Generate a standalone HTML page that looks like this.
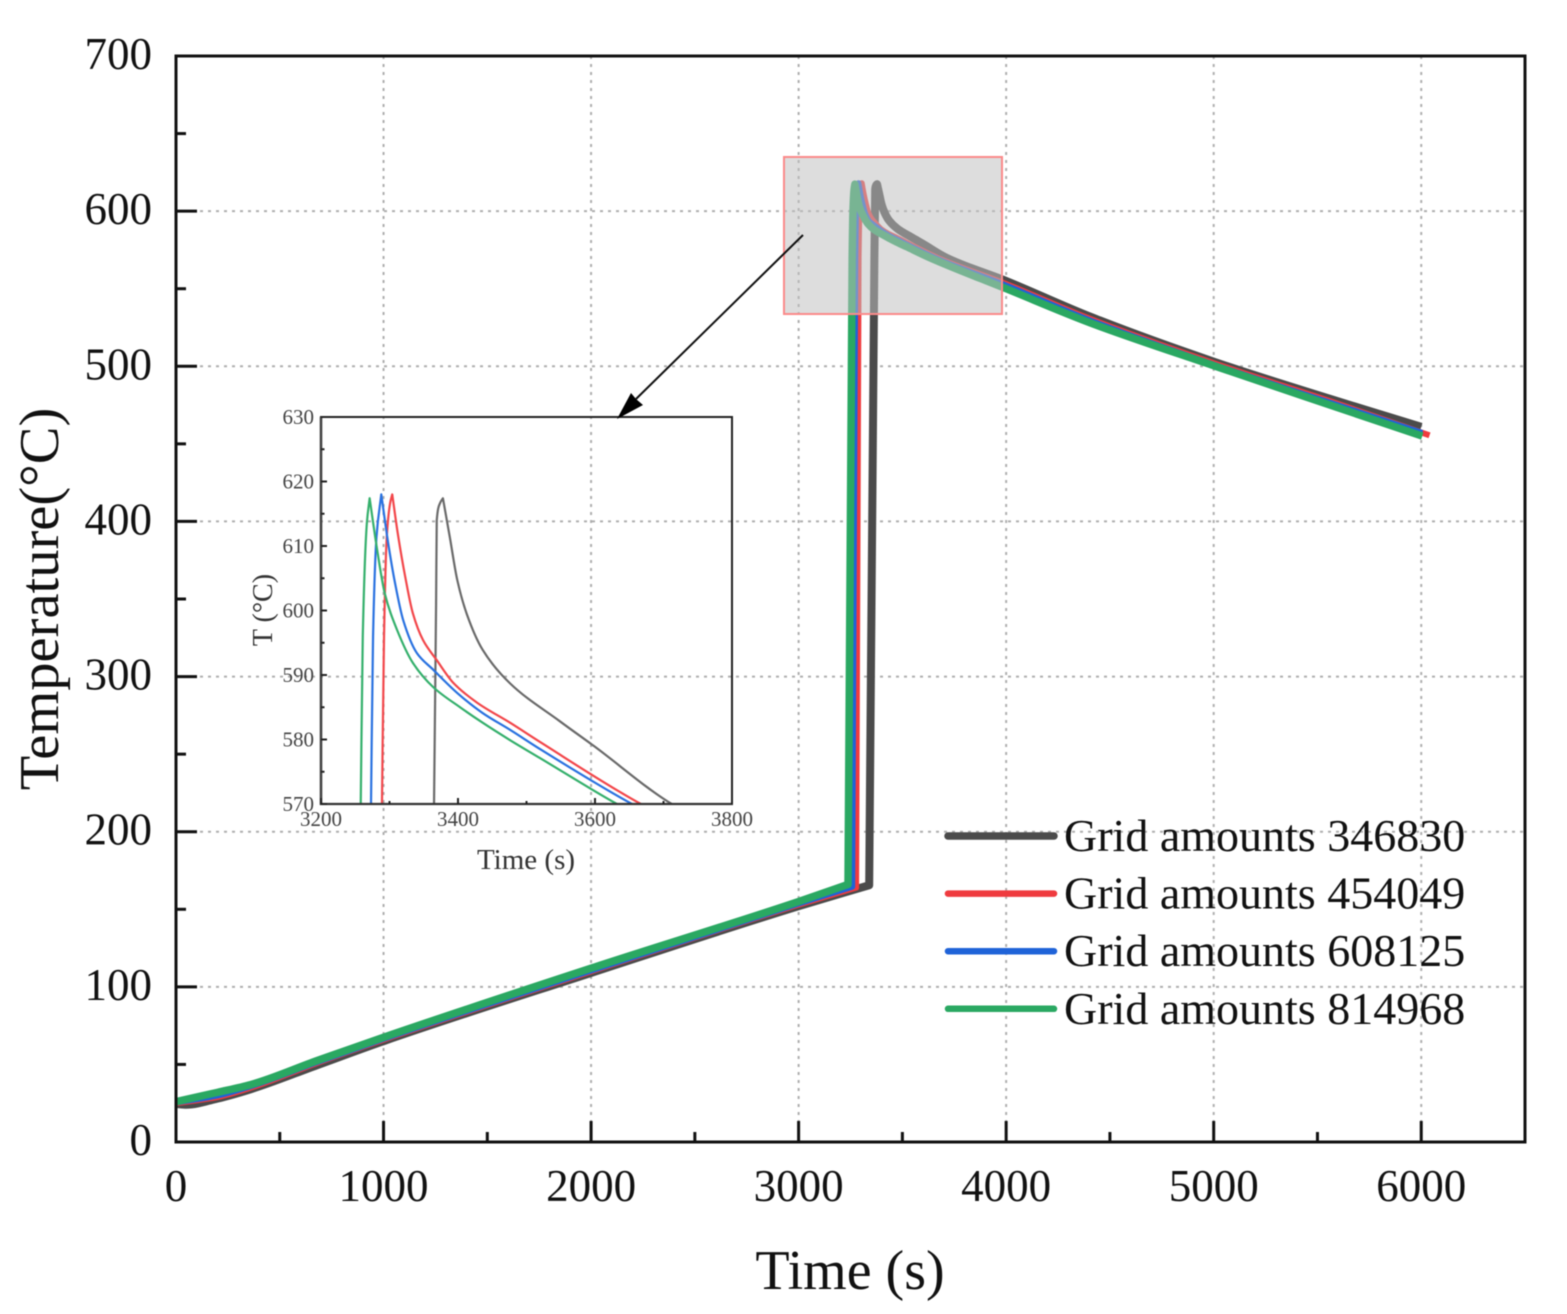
<!DOCTYPE html>
<html lang="en">
<head>
<meta charset="utf-8">
<title>Temperature vs Time</title>
<style>
html,body{margin:0;padding:0;background:#fff;width:1567px;height:1314px;overflow:hidden;}
svg{display:block;overflow:hidden;}
#plot{filter:blur(.55px);}
text{font-family:"Liberation Serif",serif;fill:#111;}
</style>
</head>
<body>
<svg id="chart" width="1567" height="1314" viewBox="0 0 1567 1314" xmlns="http://www.w3.org/2000/svg">
  <defs>
    <clipPath id="inset-clip"><rect x="321" y="417" width="411" height="387"/></clipPath>
  </defs>
  <rect x="0" y="0" width="1567" height="1314" fill="#fff"/>
  <g id="plot">
  <g id="grid"></g>
  <g id="main-series"></g>
  <rect x="784" y="157" width="218" height="157" fill="rgba(190,190,190,.53)" stroke="#fb8a8a" stroke-width="2"/>
  <g id="main-axes"></g>
  <g id="inset"></g>
  <line x1="803" y1="235" x2="636" y2="399" stroke="#111" stroke-width="2"/>
  <polygon points="617,419 631,393 636,399 643,405" fill="#000"/>
  <g id="legend"></g>
  </g>
</svg>
<script>
// Data: series 346830
const time346830 = [0,50,200,360,680,1000,2000,3000,3340,3365,3368,3369,3374,3378,3388,3399,3413,3436,3476,3549,3597,3712,4000,4405,5000,5561,6000];
const temp346830 = [24.5,24,28,34,49.5,65,109,152,165.5,570,601,614,616.7,617.4,611.4,604.7,599.4,593.9,588.7,582.8,579.1,570,555,532,503,479,461];
// Data: series 454049
const time454049 = [0,200,360,680,1000,2000,3000,3277,3289,3292,3296,3301,3304,3312,3323,3334,3349,3369,3393,3428,3476,3520,3667,4000,4405,5000,5561,6040];
const temp454049 = [25,29,35,51,66,110,153,164,570,596,611.4,616.7,618,612,605.2,599.6,595.4,592.3,588.8,585.7,582.6,579.6,570,553,530.5,502,477.5,455.5];
// Data: series 608125
const time608125 = [0,200,360,680,1000,2000,3000,3258,3273,3276,3281,3288,3298,3308,3320,3340,3364,3399,3436,3476,3520,3654,4000,4405,5000,5561,6005];
const temp608125 = [25.5,30,36,51.5,66.5,110.5,153.7,164.5,570,596,611.4,618,610.5,604.3,598.5,593.4,590.8,587.2,584.1,581.5,578.5,570,552,529.5,501,476.5,457];
// Data: series 814968
const time814968 = [0,200,360,680,1000,2000,3000,3238,3258,3261,3267,3271,3282,3293,3311,3334,3364,3403,3436,3476,3520,3632,4000,4405,5000,5561,6005];
const temp814968 = [26,32,37,52.5,67.5,112,155,166,570,596,613.6,617.4,609.4,602.7,597,591.9,588.1,585,582.6,579.9,577.1,570,550,528,500.4,475,455];

const seriesNames = ['346830','454049','608125','814968'];
const seriesColors = ['#4b4b4b','#ef3b3f','#1f63d8','#2aa862'];
const insetColors = ['#6a6a6a','#f2474b','#2a72e0','#35b06c'];

// Axis ticks: main chart
const xMajorTicks = [0,1000,2000,3000,4000,5000,6000];
const xMinorTicks = [500,1500,2500,3500,4500,5500,6500];
const yMajorTicks = [0,100,200,300,400,500,600,700];
const yMinorTicks = [50,150,250,350,450,550,650];
// Axis ticks: inset chart
const insetXMajor = [3200,3400,3600,3800];
const insetXMinor = [3300,3500,3700];
const insetYMajor = [570,580,590,600,610,620,630];
const insetYMinor = [575,585,595,605,615,625];

const NS = 'http://www.w3.org/2000/svg';
const xMain = t => 176 + (t - 0) * (1525 - 176) / 6500;
const yMain = v => 1142 - v * (1142 - 56) / 700;
const xInset = t => 321 + (t - 3200) * (732 - 321) / 600;
const yInset = v => 804 - (v - 570) * (804 - 417) / 60;

function make(parent, tag, name, attrs, txt) {
  const el = document.createElementNS(NS, tag);
  
  
  for (const k in attrs) el.setAttribute(k, attrs[k]);
  if (txt !== undefined) el.textContent = txt;
  parent.appendChild(el);
  return el;
}

// Monotone cubic through one smooth stretch of a series, in pixel space
function monotoneSegment(px, py) {
  const n = px.length;
  const slopes = [];
  for (let i = 0; i < n - 1; i++) slopes.push((py[i + 1] - py[i]) / (px[i + 1] - px[i]));
  const m = new Array(n);
  m[0] = slopes[0];
  m[n - 1] = slopes[n - 2];
  for (let i = 1; i < n - 1; i++) {
    if (slopes[i - 1] * slopes[i] <= 0) m[i] = 0;
    else {
      const h0 = px[i] - px[i - 1], h1 = px[i + 1] - px[i];
      m[i] = 3 * (h0 + h1) / ((2 * h1 + h0) / slopes[i - 1] + (h1 + 2 * h0) / slopes[i]);
    }
  }
  let d = '';
  for (let i = 0; i < n - 1; i++) {
    const h = (px[i + 1] - px[i]) / 3;
    d += ' C' + (px[i] + h).toFixed(2) + ' ' + (py[i] + m[i] * h).toFixed(2) + ' ' +
      (px[i + 1] - h).toFixed(2) + ' ' + (py[i + 1] - m[i + 1] * h).toFixed(2) + ' ' +
      px[i + 1].toFixed(2) + ' ' + py[i + 1].toFixed(2);
  }
  return d;
}

// Corners (start of the rapid climb, top of the peak) stay sharp; the rest is smooth
function curvePath(ts, vs, fx, fy) {
  let jump = 0;
  for (let i = 0; i < vs.length - 1; i++) if (vs[i + 1] - vs[i] > vs[jump + 1] - vs[jump]) jump = i;
  let peak = 0;
  for (let i = 0; i < vs.length; i++) if (vs[i] > vs[peak]) peak = i;
  const px = ts.map(fx), py = vs.map(fy);
  const part = (a, b) => monotoneSegment(px.slice(a, b + 1), py.slice(a, b + 1));
  return 'M' + px[0].toFixed(2) + ' ' + py[0].toFixed(2) + part(0, jump) +
    ' L' + px[jump + 1].toFixed(2) + ' ' + py[jump + 1].toFixed(2) +
    part(jump + 1, peak) + part(peak, ts.length - 1);
}

const gridG = document.getElementById('grid');
const mainG = document.getElementById('main-series');
const axesG = document.getElementById('main-axes');
const insetG = document.getElementById('inset');
const legendG = document.getElementById('legend');

// Grid
xMajorTicks.filter(t => t > 0).forEach(t => {
  make(gridG, 'line', 'grid-x-' + t, {x1:xMain(t), x2:xMain(t), y1:56, y2:1142, stroke:'#aeaeae', 'stroke-width':2, 'stroke-dasharray':'3 5'});
});
yMajorTicks.filter(v => v > 0 && v < 700).forEach(v => {
  make(gridG, 'line', 'grid-y-' + v, {x1:176, x2:1525, y1:yMain(v), y2:yMain(v), stroke:'#aeaeae', 'stroke-width':2, 'stroke-dasharray':'3 5'});
});

// Series
const allTimes = [time346830, time454049, time608125, time814968];
const allTemps = [temp346830, temp454049, temp608125, temp814968];
const mainWidths = [8, 6, 6, 7.5];
allTimes.forEach((ts, i) => {
  make(mainG, 'path', 'line-grid-' + seriesNames[i], {d:curvePath(ts, allTemps[i], xMain, yMain), fill:'none', stroke:seriesColors[i], 'stroke-width':mainWidths[i], 'stroke-linejoin':'round'});
});

// Main axes
make(axesG, 'rect', 'plot-frame', {x:176, y:56, width:1349, height:1086, fill:'none', stroke:'#111', 'stroke-width':3});
xMajorTicks.forEach(t => {
  make(axesG, 'line', 'x-major-tick-' + t, {x1:xMain(t), x2:xMain(t), y1:1142, y2:1121, stroke:'#111', 'stroke-width':3});
  make(axesG, 'text', 'x-tick-label-' + t, {x:xMain(t), y:1201, 'font-size':45, 'text-anchor':'middle'}, String(t));
});
xMinorTicks.forEach(t => {
  make(axesG, 'line', 'x-minor-tick-' + t, {x1:xMain(t), x2:xMain(t), y1:1142, y2:1132, stroke:'#111', 'stroke-width':3});
});
yMajorTicks.forEach(v => {
  make(axesG, 'line', 'y-major-tick-' + v, {x1:176, x2:197, y1:yMain(v), y2:yMain(v), stroke:'#111', 'stroke-width':3});
  make(axesG, 'text', 'y-tick-label-' + v, {x:152, y:yMain(v) + 13, 'font-size':45, 'text-anchor':'end'}, String(v));
});
yMinorTicks.forEach(v => {
  make(axesG, 'line', 'y-minor-tick-' + v, {x1:176, x2:186, y1:yMain(v), y2:yMain(v), stroke:'#111', 'stroke-width':3});
});
make(axesG, 'text', 'x-axis-title', {x:850, y:1289, 'font-size':56, 'text-anchor':'middle'}, 'Time (s)');
make(axesG, 'text', 'y-axis-title', {x:0, y:0, 'font-size':56.5, 'text-anchor':'middle', transform:'translate(58 599) rotate(-90)'}, 'Temperature(°C)');

// Inset
const insetLines = make(insetG, 'g', 'inset-series-group', {'clip-path':'url(#inset-clip)'});
allTimes.forEach((ts, i) => {
  make(insetLines, 'path', 'inset-line-grid-' + seriesNames[i], {d:curvePath(ts, allTemps[i], xInset, yInset), fill:'none', stroke:insetColors[i], 'stroke-width':2.2, 'stroke-linejoin':'round'});
});
make(insetG, 'line', 'inset-frame-top', {x1:320, x2:733, y1:417, y2:417, stroke:'#222', 'stroke-width':2});
make(insetG, 'line', 'inset-frame-right', {x1:732, x2:732, y1:417, y2:805, stroke:'#222', 'stroke-width':2});
make(insetG, 'line', 'inset-frame-left', {x1:321, x2:321, y1:417, y2:805, stroke:'#444', 'stroke-width':2.6});
make(insetG, 'line', 'inset-frame-bottom', {x1:320, x2:733, y1:804, y2:804, stroke:'#333', 'stroke-width':2.2});
insetXMajor.forEach(t => {
  make(insetG, 'line', 'inset-x-major-tick-' + t, {x1:xInset(t), x2:xInset(t), y1:804, y2:798, stroke:'#222', 'stroke-width':2});
  make(insetG, 'text', 'inset-x-tick-label-' + t, {x:xInset(t), y:826, 'font-size':21, 'text-anchor':'middle', style:'fill:#444'}, String(t));
});
insetXMinor.forEach(t => {
  make(insetG, 'line', 'inset-x-minor-tick-' + t, {x1:xInset(t), x2:xInset(t), y1:804, y2:801, stroke:'#222', 'stroke-width':2});
});
insetYMajor.forEach(v => {
  make(insetG, 'line', 'inset-y-major-tick-' + v, {x1:321, x2:327, y1:yInset(v), y2:yInset(v), stroke:'#222', 'stroke-width':2});
  make(insetG, 'text', 'inset-y-tick-label-' + v, {x:314, y:yInset(v) + 7, 'font-size':21, 'text-anchor':'end', style:'fill:#444'}, String(v));
});
insetYMinor.forEach(v => {
  make(insetG, 'line', 'inset-y-minor-tick-' + v, {x1:321, x2:324.5, y1:yInset(v), y2:yInset(v), stroke:'#222', 'stroke-width':2});
});
make(insetG, 'text', 'inset-x-axis-title', {x:526, y:869, 'font-size':29, 'text-anchor':'middle', style:'fill:#333'}, 'Time (s)');
make(insetG, 'text', 'inset-y-axis-title', {x:0, y:0, 'font-size':28, 'text-anchor':'middle', transform:'translate(272 610) rotate(-90)', style:'fill:#333'}, 'T (°C)');

// Legend
const legendWidths = [7.5, 6.5, 6.5, 6.5];
seriesNames.forEach((n, i) => {
  const y = 836 + i * 57.6;
  make(legendG, 'line', 'legend-line-' + n, {x1:948, x2:1054, y1:y, y2:y, stroke:seriesColors[i], 'stroke-width':legendWidths[i], 'stroke-linecap':'round'});
  make(legendG, 'text', 'legend-label-' + n, {x:1064, y:y + 15, 'font-size':46}, 'Grid amounts ' + n);
});
</script>
</body>
</html>
